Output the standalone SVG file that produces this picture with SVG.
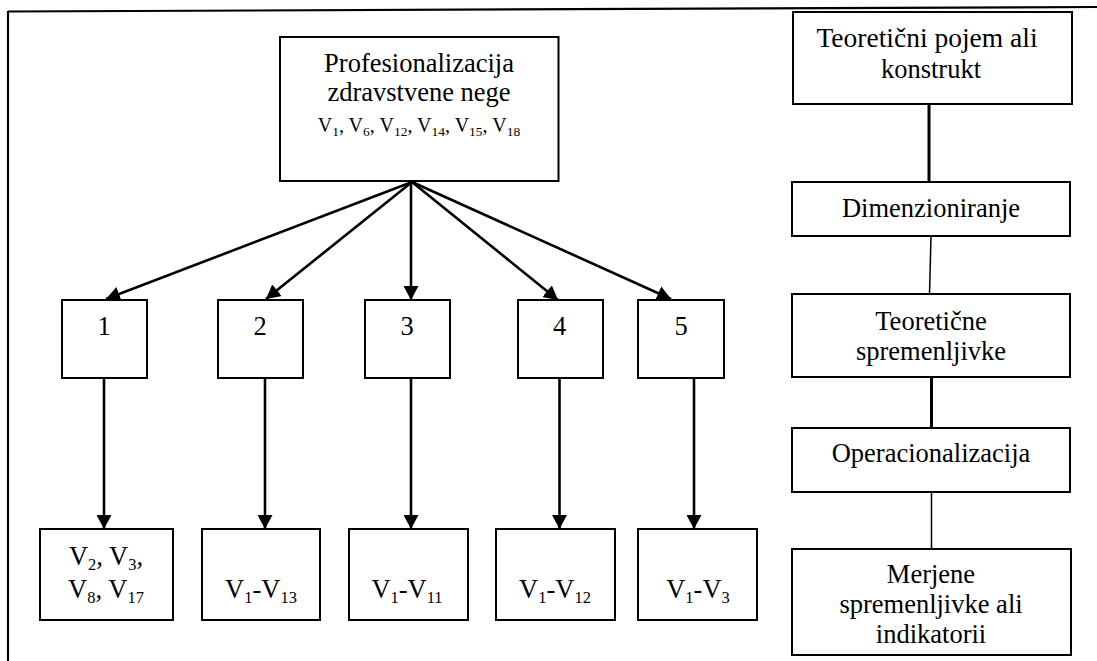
<svg xmlns="http://www.w3.org/2000/svg" width="1097" height="661" viewBox="0 0 1097 661">
  <style>
    .box { fill: #ffffff; stroke: #000000; stroke-width: 2; }
    .t { font-family: "Liberation Serif", "Times New Roman", serif; font-size: 26.5px; fill: #000000; text-anchor: middle; }
    .ts { font-family: "Liberation Serif", "Times New Roman", serif; font-size: 20px; fill: #000000; text-anchor: middle; }
    .sub { font-size: 16.5px; }
    .subs { font-size: 13.5px; }
    .arrow { stroke: #000000; stroke-width: 2.6; fill: none; marker-end: url(#head); }
    .link { stroke: #000000; fill: none; }
    .frame { stroke: #000000; stroke-width: 2.2; fill: none; }
  </style>
  <defs>
    <marker id="head" markerUnits="userSpaceOnUse" markerWidth="15" markerHeight="15" refX="14" refY="7.5" orient="auto">
      <path d="M0,0 L14,7.5 L0,15 z" fill="#000000"/>
    </marker>
  </defs>
  <rect x="0" y="0" width="1097" height="661" fill="#ffffff"/>

  <!-- page frame -->
  <g id="frame">
    <line class="frame" x1="8" y1="11.5" x2="1097" y2="7"/>
    <line class="frame" x1="8" y1="11" x2="8" y2="661"/>
  </g>

  <!-- connectors -->
  <g id="connectors">
    <line class="arrow" x1="412" y1="182" x2="106" y2="299"/>
    <line class="arrow" x1="412" y1="182" x2="266" y2="299"/>
    <line class="arrow" x1="411" y1="182" x2="411" y2="300"/>
    <line class="arrow" x1="412" y1="182" x2="558" y2="300"/>
    <line class="arrow" x1="412" y1="182" x2="671" y2="299"/>
    <line class="arrow" x1="104" y1="378" x2="104" y2="529"/>
    <line class="arrow" x1="265" y1="378" x2="265" y2="529"/>
    <line class="arrow" x1="411" y1="378" x2="411" y2="529"/>
    <line class="arrow" x1="559.5" y1="378" x2="559.5" y2="529"/>
    <line class="arrow" x1="694" y1="378" x2="694" y2="529"/>
    <line class="link" stroke-width="3" x1="929" y1="104" x2="929" y2="182"/>
    <line class="link" stroke-width="1.5" x1="931" y1="236" x2="929.5" y2="294"/>
    <line class="link" stroke-width="3" x1="931.5" y1="377" x2="931.5" y2="428"/>
    <line class="link" stroke-width="1.5" x1="931.5" y1="492" x2="931.5" y2="549"/>
  </g>

  <!-- root concept -->
  <g id="root">
    <rect class="box" x="280" y="37" width="278.5" height="144"/>
    <text class="t" x="419" y="72">Profesionalizacija</text>
    <text class="t" x="419" y="101">zdravstvene nege</text>
    <text class="ts" x="419" y="132">V<tspan class="subs" dy="4">1</tspan><tspan dy="-4">, V</tspan><tspan class="subs" dy="4">6</tspan><tspan dy="-4">, V</tspan><tspan class="subs" dy="4">12</tspan><tspan dy="-4">, V</tspan><tspan class="subs" dy="4">14</tspan><tspan dy="-4">, V</tspan><tspan class="subs" dy="4">15</tspan><tspan dy="-4">, V</tspan><tspan class="subs" dy="4">18</tspan></text>
  </g>

  <!-- dimensions -->
  <g id="dim1">
    <rect class="box" x="62" y="300" width="85" height="78"/>
    <text class="t" x="104" y="335">1</text>
  </g>
  <g id="dim2">
    <rect class="box" x="218" y="300" width="85" height="78"/>
    <text class="t" x="260" y="335">2</text>
  </g>
  <g id="dim3">
    <rect class="box" x="365" y="300" width="85" height="78"/>
    <text class="t" x="407" y="335">3</text>
  </g>
  <g id="dim4">
    <rect class="box" x="518" y="300" width="85" height="78"/>
    <text class="t" x="559.5" y="335">4</text>
  </g>
  <g id="dim5">
    <rect class="box" x="638" y="300" width="86" height="78"/>
    <text class="t" x="681" y="335">5</text>
  </g>

  <!-- variable sets -->
  <g id="vars1">
    <rect class="box" x="40" y="529" width="133" height="91"/>
    <text class="t" x="106" y="565">V<tspan class="sub" dy="5">2</tspan><tspan dy="-5">, V</tspan><tspan class="sub" dy="5">3</tspan><tspan dy="-5">,</tspan></text>
    <text class="t" x="106" y="598">V<tspan class="sub" dy="5">8</tspan><tspan dy="-5">, V</tspan><tspan class="sub" dy="5">17</tspan></text>
  </g>
  <g id="vars2">
    <rect class="box" x="202" y="529" width="118" height="91"/>
    <text class="t" x="261" y="598">V<tspan class="sub" dy="5">1</tspan><tspan dy="-5">-V</tspan><tspan class="sub" dy="5">13</tspan></text>
  </g>
  <g id="vars3">
    <rect class="box" x="349" y="529" width="119" height="91"/>
    <text class="t" x="407" y="598">V<tspan class="sub" dy="5">1</tspan><tspan dy="-5">-V</tspan><tspan class="sub" dy="5">11</tspan></text>
  </g>
  <g id="vars4">
    <rect class="box" x="496" y="529" width="119" height="91"/>
    <text class="t" x="555" y="598">V<tspan class="sub" dy="5">1</tspan><tspan dy="-5">-V</tspan><tspan class="sub" dy="5">12</tspan></text>
  </g>
  <g id="vars5">
    <rect class="box" x="638" y="529" width="119" height="91"/>
    <text class="t" x="698" y="598">V<tspan class="sub" dy="5">1</tspan><tspan dy="-5">-V</tspan><tspan class="sub" dy="5">3</tspan></text>
  </g>

  <!-- process chain -->
  <g id="step-construct">
    <rect class="box" x="793" y="12" width="279" height="92"/>
    <text class="t" x="927" y="47" style="font-size:27.5px">Teoretični pojem ali</text>
    <text class="t" x="931" y="78">konstrukt</text>
  </g>
  <g id="step-dimension">
    <rect class="box" x="792" y="182" width="278" height="54"/>
    <text class="t" x="931" y="217">Dimenzioniranje</text>
  </g>
  <g id="step-theory">
    <rect class="box" x="792" y="294" width="278" height="83"/>
    <text class="t" x="931" y="330">Teoretične</text>
    <text class="t" x="931" y="360">spremenljivke</text>
  </g>
  <g id="step-operation">
    <rect class="box" x="792" y="428" width="278" height="64"/>
    <text class="t" x="931" y="462">Operacionalizacija</text>
  </g>
  <g id="step-measure">
    <rect class="box" x="792" y="549" width="279" height="106"/>
    <text class="t" x="931" y="583">Merjene</text>
    <text class="t" x="931" y="613">spremenljivke ali</text>
    <text class="t" x="931" y="643">indikatorii</text>
  </g>
</svg>
